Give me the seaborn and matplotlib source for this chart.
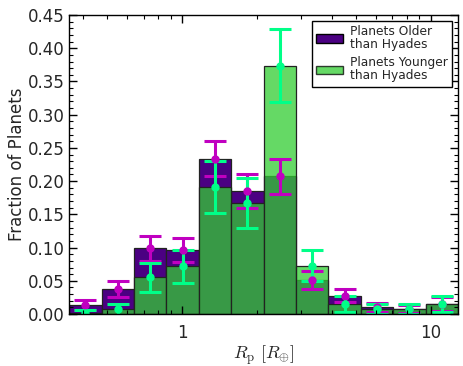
import numpy as np
import matplotlib
matplotlib.use('Agg')
import matplotlib.pyplot as plt
import matplotlib.ticker as mticker
from matplotlib.patches import Patch
import seaborn as sns

# bin edges in log10(R_p)
log_lo = -0.455
log_hi = 1.11
n_bins = 12

older = [0.0137, 0.038, 0.099, 0.096, 0.234, 0.185, 0.207, 0.051, 0.0276, 0.010, 0.0075, 0.015]
older_err = [0.0074, 0.0118, 0.0186, 0.018, 0.026, 0.026, 0.027, 0.0135, 0.010, 0.0065, 0.0055, 0.010]
younger = [0.001, 0.0069, 0.055, 0.0716, 0.191, 0.167, 0.374, 0.073, 0.015, 0.0075, 0.0075, 0.015]
younger_err = [0.005, 0.0083, 0.0216, 0.0245, 0.039, 0.037, 0.055, 0.024, 0.012, 0.0075, 0.0075, 0.012]

xtick_vals = [1, 10]
xtick_labels = ['1', '10']
labels = ['Planets Older\nthan Hyades', 'Planets Younger\nthan Hyades']

sns.set_style('ticks', {'xtick.direction': 'in', 'ytick.direction': 'in',
                        'xtick.top': True, 'ytick.right': True})
plt.rcParams['font.family'] = ['DejaVu Sans']
plt.rcParams['mathtext.fontset'] = 'cm'

log_edges = list(np.linspace(log_lo, log_hi, n_bins + 1))
centers = 10 ** ((np.array(log_edges[:-1]) + np.array(log_edges[1:])) / 2)

fig = plt.figure(figsize=(4.64, 3.66), dpi=100)
ax = fig.add_axes([0.149, 0.142, 0.838, 0.817])

purple = '#4b0082'
green = '#32cd32'
edge = '#222222'

sns.histplot(x=centers, weights=older, bins=log_edges, log_scale=True,
             color=purple, alpha=1.0, edgecolor=edge, linewidth=0.9, ax=ax)
sns.histplot(x=centers, weights=younger, bins=log_edges, log_scale=True,
             color=green, alpha=0.75, edgecolor=edge, linewidth=0.9, ax=ax)

ax.errorbar(centers, older, yerr=older_err, fmt='o', color='#c000c0',
            ms=5, elinewidth=2.2, capsize=8, capthick=2.2)
ax.errorbar(centers, younger, yerr=younger_err, fmt='o', color='#00ff88',
            ms=5, elinewidth=2.2, capsize=8, capthick=2.2)

ax.set_axisbelow(False)
ax.set_xlim(10 ** log_lo, 10 ** log_hi)
ax.set_ylim(0, 0.45)
ax.set_xticks(xtick_vals)
ax.set_xticklabels(xtick_labels)
ax.xaxis.set_minor_locator(mticker.LogLocator(base=10, subs=np.arange(2, 10)))
ax.xaxis.set_minor_formatter(mticker.NullFormatter())
ax.yaxis.set_major_locator(mticker.MultipleLocator(0.05))
ax.yaxis.set_minor_locator(mticker.MultipleLocator(0.01))
ax.yaxis.set_major_formatter(mticker.FormatStrFormatter('%.2f'))
ax.xaxis.set_ticks_position('both')
ax.yaxis.set_ticks_position('both')
ax.tick_params(which='both', direction='in', labelsize=12, color='black')
ax.tick_params(which='major', length=6, width=1)
ax.tick_params(which='minor', length=3, width=0.8)
ax.tick_params(axis='x', pad=7)
for sp in ax.spines.values():
    sp.set_linewidth(1.0)
    sp.set_color('black')

ax.set_xlabel(r'$R_{\rm p}\ [R_{\oplus}]$', fontsize=13, labelpad=1)
ax.set_ylabel('Fraction of Planets', fontsize=12, labelpad=1)

handles = [Patch(facecolor=purple, edgecolor='black'),
           Patch(facecolor=green, edgecolor='black', alpha=0.75)]
leg = ax.legend(handles, labels, loc='upper right', fontsize=8.8,
                fancybox=False, framealpha=1, edgecolor='black',
                handlelength=2.2, handleheight=0.7, labelspacing=0.45,
                handletextpad=0.6, borderaxespad=0.45, borderpad=0.35)
leg.get_frame().set_linewidth(1.0)
for t in leg.get_texts():
    t.set_linespacing(1.0)

fig.savefig('out.png', dpi=100)
